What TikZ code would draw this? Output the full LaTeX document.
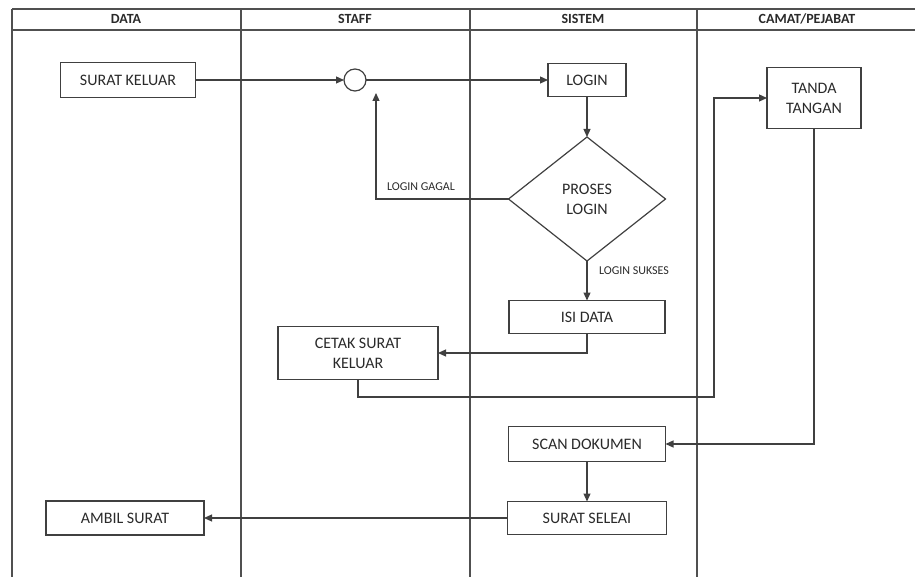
\documentclass[tikz,border=0pt]{standalone}
\usepackage{fontspec}
\setmainfont{Carlito}
\usetikzlibrary{arrows.meta,shapes.geometric}
\definecolor{swimInk}{HTML}{2A2A2A}
\definecolor{swimLine}{HTML}{404040}
\definecolor{swimGrid}{HTML}{505050}
\tikzset{
  swim diagram/.style={
    x=1pt, y=-1pt,
    >={Triangle[length=8pt,width=7pt]},
    every node/.style={text=swimInk, inner sep=0pt, outer sep=0pt}
  },
  swim box/.style={draw=swimLine, line width=1.2pt, align=center,
    font=\fontsize{16}{20}\selectfont},
  swim head/.style={font=\bfseries\fontsize{14}{16}\selectfont},
  swim grid/.style={draw=swimGrid, line width=1.5pt},
  swim note/.style={font=\fontsize{12}{14}\selectfont},
  swim link/.style={->, draw=swimLine, line width=1.2pt}
}

\begin{document}
\begin{tikzpicture}[swim diagram]
  \useasboundingbox (0,0) rectangle (915,577);
  % lanes
  \draw[swim grid] (12,9) -- (915,9);
  \draw[swim grid] (12,30) -- (915,30);
  \foreach \laneX in {12,241,470,697} {
    \draw[swim grid] (\laneX,9) -- (\laneX,577);
  }
  \node[swim head] (hData)  at (126,19) {DATA};
  \node[swim head] (hStaff) at (355,19) {STAFF};
  \node[swim head] (hSis)   at (583,19) {SISTEM};
  \node[swim head] (hCamat) at (807,19) {CAMAT/PEJABAT};

  % steps
  \node[swim box, minimum width=135pt, minimum height=35pt] (keluar) at (128,80) {SURAT KELUAR};
  \node[draw=swimLine, line width=1.2pt, circle, minimum size=22pt] (circ) at (355,80) {};
  \node[swim box, minimum width=78pt, minimum height=33pt] (login) at (587,80) {LOGIN};
  \node[swim box, diamond, minimum width=157pt, minimum height=124pt] (proses) at (587,199) {PROSES\\LOGIN};
  \node[swim box, minimum width=156pt, minimum height=33pt] (isi) at (587,317) {ISI DATA};
  \node[swim box, minimum width=160pt, minimum height=53pt] (cetak) at (358,353) {CETAK SURAT\\KELUAR};
  \node[swim box, minimum width=94pt, minimum height=61pt] (tanda) at (814,98) {TANDA\\TANGAN};
  \node[swim box, minimum width=157pt, minimum height=35pt] (scan) at (587,444) {SCAN DOKUMEN};
  \node[swim box, minimum width=159pt, minimum height=33pt] (selesai) at (587,518) {SURAT SELEAI};
  \node[swim box, minimum width=158pt, minimum height=34pt] (ambil) at (125,518) {AMBIL SURAT};

  \node[swim note] (gagal)  at (421,187) {LOGIN GAGAL};
  \node[swim note] (sukses) at (634,271) {LOGIN SUKSES};
  \coordinate (gagalEnd) at (376,93);
  \coordinate (cetakTurn) at (714,397);

  % flow
  \draw[swim link] (keluar.east) -- (circ.west);
  \draw[swim link] (circ.east) -- (login.west);
  \draw[swim link] (login.south) -- (proses.north);
  \draw[swim link] (proses.west) -| (gagalEnd);
  \draw[swim link] (proses.south) -- (isi.north);
  \draw[swim link] (isi.south) |- (cetak.east);
  \draw[swim link] (cetak.south) |- (cetakTurn) |- (tanda.west);
  \draw[swim link] (tanda.south) |- (scan.east);
  \draw[swim link] (scan.south) -- (selesai.north);
  \draw[swim link] (selesai.west) -- (ambil.east);
\end{tikzpicture}
\end{document}
